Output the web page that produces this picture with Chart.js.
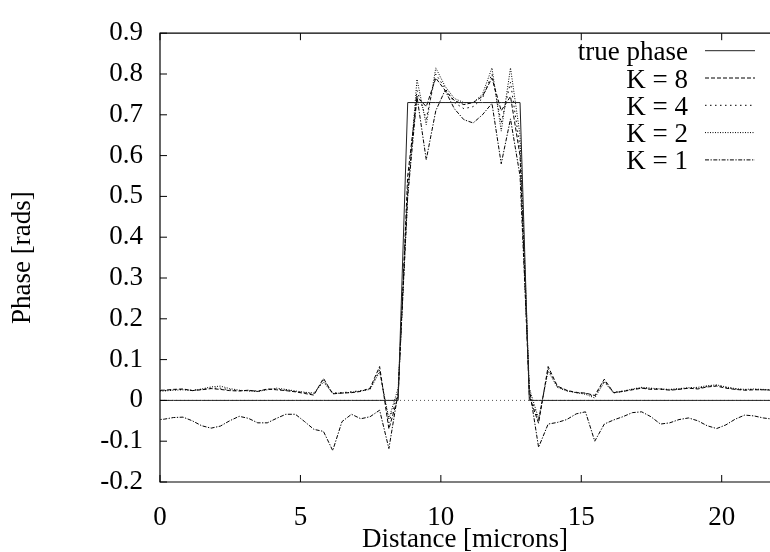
<!DOCTYPE html>
<html>
<head>
<meta charset="utf-8">
<script src="https://cdn.jsdelivr.net/npm/chart.js@4.4.0/dist/chart.umd.min.js"></script>
<style>
html,body{margin:0;padding:0;background:#fff;}
</style>
</head>
<body>
<canvas id="phaseChart" width="770" height="552"></canvas>
<script>
// sample positions [microns]
const distance = [-0.18, 0.15, 0.48, 0.82, 1.15, 1.48, 1.82, 2.15, 2.48, 2.82,
  3.15, 3.48, 3.82, 4.15, 4.48, 4.82, 5.15, 5.48, 5.82, 6.15,
  6.48, 6.82, 7.15, 7.48, 7.82, 8.15, 8.48, 8.82, 9.15, 9.48,
  9.82, 10.15, 10.48, 10.82, 11.15, 11.48, 11.82, 12.15, 12.48, 12.82,
  13.15, 13.48, 13.82, 14.15, 14.48, 14.82, 15.15, 15.48, 15.82, 16.15,
  16.48, 16.82, 17.15, 17.48, 17.82, 18.15, 18.48, 18.82, 19.15, 19.48,
  19.82, 20.15, 20.48, 20.82, 21.15, 21.48, 21.82];

const truePhase = [0, 0, 0, 0, 0, 0, 0, 0, 0, 0,
  0, 0, 0, 0, 0, 0, 0, 0, 0, 0,
  0, 0, 0, 0, 0, 0, 0, 0.73, 0.73, 0.73,
  0.73, 0.73, 0.73, 0.73, 0.73, 0.73, 0.73, 0.73, 0.73, 0.73,
  0, 0, 0, 0, 0, 0, 0, 0, 0, 0,
  0, 0, 0, 0, 0, 0, 0, 0, 0, 0,
  0, 0, 0, 0, 0, 0, 0];

const phaseK8 = [0.025, 0.025, 0.027, 0.028, 0.024, 0.026, 0.029, 0.027, 0.024, 0.023,
  0.025, 0.022, 0.028, 0.026, 0.024, 0.021, 0.017, 0.013, 0.054, 0.016,
  0.018, 0.019, 0.022, 0.030, 0.083, -0.070, 0.010, 0.550, 0.745, 0.720,
  0.790, 0.760, 0.735, 0.725, 0.730, 0.745, 0.790, 0.710, 0.745, 0.600,
  0.010, -0.056, 0.083, 0.035, 0.025, 0.019, 0.018, 0.012, 0.052, 0.019,
  0.022, 0.026, 0.030, 0.027, 0.028, 0.025, 0.027, 0.030, 0.028, 0.033,
  0.035, 0.030, 0.027, 0.025, 0.026, 0.026, 0.025];

const phaseK4 = [0.024, 0.024, 0.026, 0.027, 0.025, 0.027, 0.030, 0.030, 0.026, 0.024,
  0.024, 0.023, 0.027, 0.028, 0.025, 0.022, 0.019, 0.016, 0.050, 0.018,
  0.019, 0.021, 0.024, 0.028, 0.075, -0.055, 0.020, 0.520, 0.760, 0.690,
  0.800, 0.765, 0.730, 0.715, 0.720, 0.740, 0.800, 0.680, 0.780, 0.620,
  0.020, -0.050, 0.078, 0.033, 0.024, 0.020, 0.017, 0.010, 0.048, 0.020,
  0.023, 0.027, 0.031, 0.029, 0.027, 0.026, 0.028, 0.030, 0.030, 0.034,
  0.037, 0.032, 0.028, 0.026, 0.027, 0.026, 0.025];

const phaseK2 = [0.023, 0.023, 0.025, 0.026, 0.024, 0.028, 0.033, 0.035, 0.029, 0.025,
  0.023, 0.022, 0.026, 0.030, 0.027, 0.023, 0.020, 0.018, 0.045, 0.017,
  0.018, 0.020, 0.023, 0.027, 0.070, -0.045, 0.030, 0.500, 0.787, 0.676,
  0.815, 0.770, 0.740, 0.730, 0.730, 0.750, 0.815, 0.660, 0.815, 0.650,
  0.030, -0.045, 0.072, 0.032, 0.023, 0.019, 0.015, 0.006, 0.045, 0.018,
  0.022, 0.028, 0.032, 0.030, 0.028, 0.027, 0.029, 0.031, 0.032, 0.036,
  0.038, 0.033, 0.029, 0.027, 0.028, 0.027, 0.026];

const phaseK1 = [-0.048, -0.046, -0.042, -0.041, -0.050, -0.062, -0.068, -0.063, -0.050, -0.039,
  -0.044, -0.055, -0.055, -0.044, -0.034, -0.034, -0.052, -0.071, -0.076, -0.123,
  -0.052, -0.034, -0.045, -0.040, -0.024, -0.118, 0.020, 0.500, 0.745, 0.590,
  0.710, 0.760, 0.715, 0.688, 0.680, 0.700, 0.728, 0.580, 0.690, 0.550,
  0.030, -0.115, -0.058, -0.054, -0.047, -0.033, -0.028, -0.100, -0.058, -0.048,
  -0.040, -0.030, -0.028, -0.040, -0.058, -0.055, -0.047, -0.043, -0.050, -0.062,
  -0.069, -0.060, -0.046, -0.036, -0.038, -0.043, -0.046];

const seriesNames = ["true phase", "K = 8", "K = 4", "K = 2", "K = 1"];
const seriesValues = [truePhase, phaseK8, phaseK4, phaseK2, phaseK1];
const seriesDash = [[], [4, 2], [1.5, 3.5], [1, 1.5], [4, 1.5, 1.3, 1.5]];
const seriesColor = ["#222", "#000", "#000", "#000", "#000"];

const xMin = 0, xMax = 21.72, xStep = 5;
const yMin = -0.2, yMax = 0.9, yStep = 0.1;

const serif = "'Liberation Serif', 'Times New Roman', serif";

const datasets = seriesValues.map((vals, i) => ({
  label: seriesNames[i],
  data: vals.map((v, j) => ({ x: distance[j], y: v })),
  borderColor: seriesColor[i],
  borderWidth: 1,
  borderDash: seriesDash[i],
  pointRadius: 0,
  tension: 0,
  fill: false
}));

// frame, inward ticks, zero axis, key
const framePlugin = {
  id: "gnuFrame",
  beforeDatasetsDraw(chart) {
    const { ctx, chartArea: a, scales: { y } } = chart;
    const y0 = y.getPixelForValue(0);
    ctx.save();
    ctx.strokeStyle = "#555";
    ctx.lineWidth = 1;
    ctx.setLineDash([1, 3]);
    ctx.beginPath(); ctx.moveTo(a.left, y0); ctx.lineTo(a.right, y0); ctx.stroke();
    ctx.restore();
  },
  afterDraw(chart) {
    const { ctx, chartArea: a, scales: { x, y } } = chart;
    ctx.save();
    ctx.strokeStyle = "#000";
    ctx.lineWidth = 1.2;
    ctx.beginPath();
    ctx.moveTo(a.right + 2, a.top); ctx.lineTo(a.left, a.top);
    ctx.lineTo(a.left, a.bottom); ctx.lineTo(a.right + 2, a.bottom);
    ctx.stroke();
    ctx.lineWidth = 1;
    ctx.beginPath();
    y.ticks.forEach(t => {
      const py = y.getPixelForValue(t.value);
      ctx.moveTo(a.left, py); ctx.lineTo(a.left + 7, py);
    });
    x.ticks.forEach(t => {
      const px = x.getPixelForValue(t.value);
      ctx.moveTo(px, a.bottom); ctx.lineTo(px, a.bottom - 7);
      ctx.moveTo(px, a.top); ctx.lineTo(px, a.top + 7);
    });
    ctx.stroke();

    // key
    ctx.font = "27px " + serif;
    ctx.fillStyle = "#000";
    ctx.textAlign = "right";
    ctx.textBaseline = "alphabetic";
    chart.data.datasets.forEach((ds, i) => {
      const ly = 50.7 + 27.3 * i;
      ctx.fillText(ds.label, 688, ly + 9.5);
      ctx.strokeStyle = ds.borderColor;
      ctx.lineWidth = 1;
      ctx.setLineDash(ds.borderDash);
      ctx.beginPath(); ctx.moveTo(705, ly); ctx.lineTo(755, ly); ctx.stroke();
    });
    ctx.restore();
  }
};

new Chart(document.getElementById("phaseChart"), {
  type: "line",
  data: { datasets: datasets },
  options: {
    responsive: false,
    animation: false,
    layout: { padding: { top: 16.5, right: 0, bottom: 0, left: 0 } },
    plugins: { legend: { display: false }, tooltip: { enabled: false } },
    scales: {
      x: {
        type: "linear",
        min: xMin, max: xMax,
        grid: { display: false, drawTicks: false },
        border: { display: false },
        ticks: {
          stepSize: xStep, includeBounds: false, autoSkip: false, maxRotation: 0,
          padding: 20, color: "#000",
          font: { family: serif, size: 27 }
        },
        title: {
          display: true, text: "Distance [microns]", color: "#000",
          padding: { top: 0, bottom: 0 },
          font: { family: serif, size: 27, lineHeight: 0.9 }
        },
        afterFit(scale) { scale.height = 70; }
      },
      y: {
        min: yMin, max: yMax,
        grid: { display: false, drawTicks: false },
        border: { display: false },
        ticks: {
          stepSize: yStep, includeBounds: false, padding: 17, color: "#000",
          font: { family: serif, size: 27 },
          callback: v => { const r = Math.round(v * 10) / 10; return r === 0 ? "0" : r.toFixed(1); }
        },
        title: {
          display: true, text: "Phase [rads]", color: "#000",
          padding: { top: 11, bottom: 0 },
          font: { family: serif, size: 27, lineHeight: 0.9 }
        },
        afterFit(scale) { scale.width = 160; }
      }
    }
  },
  plugins: [framePlugin]
});
</script>
</body>
</html>
